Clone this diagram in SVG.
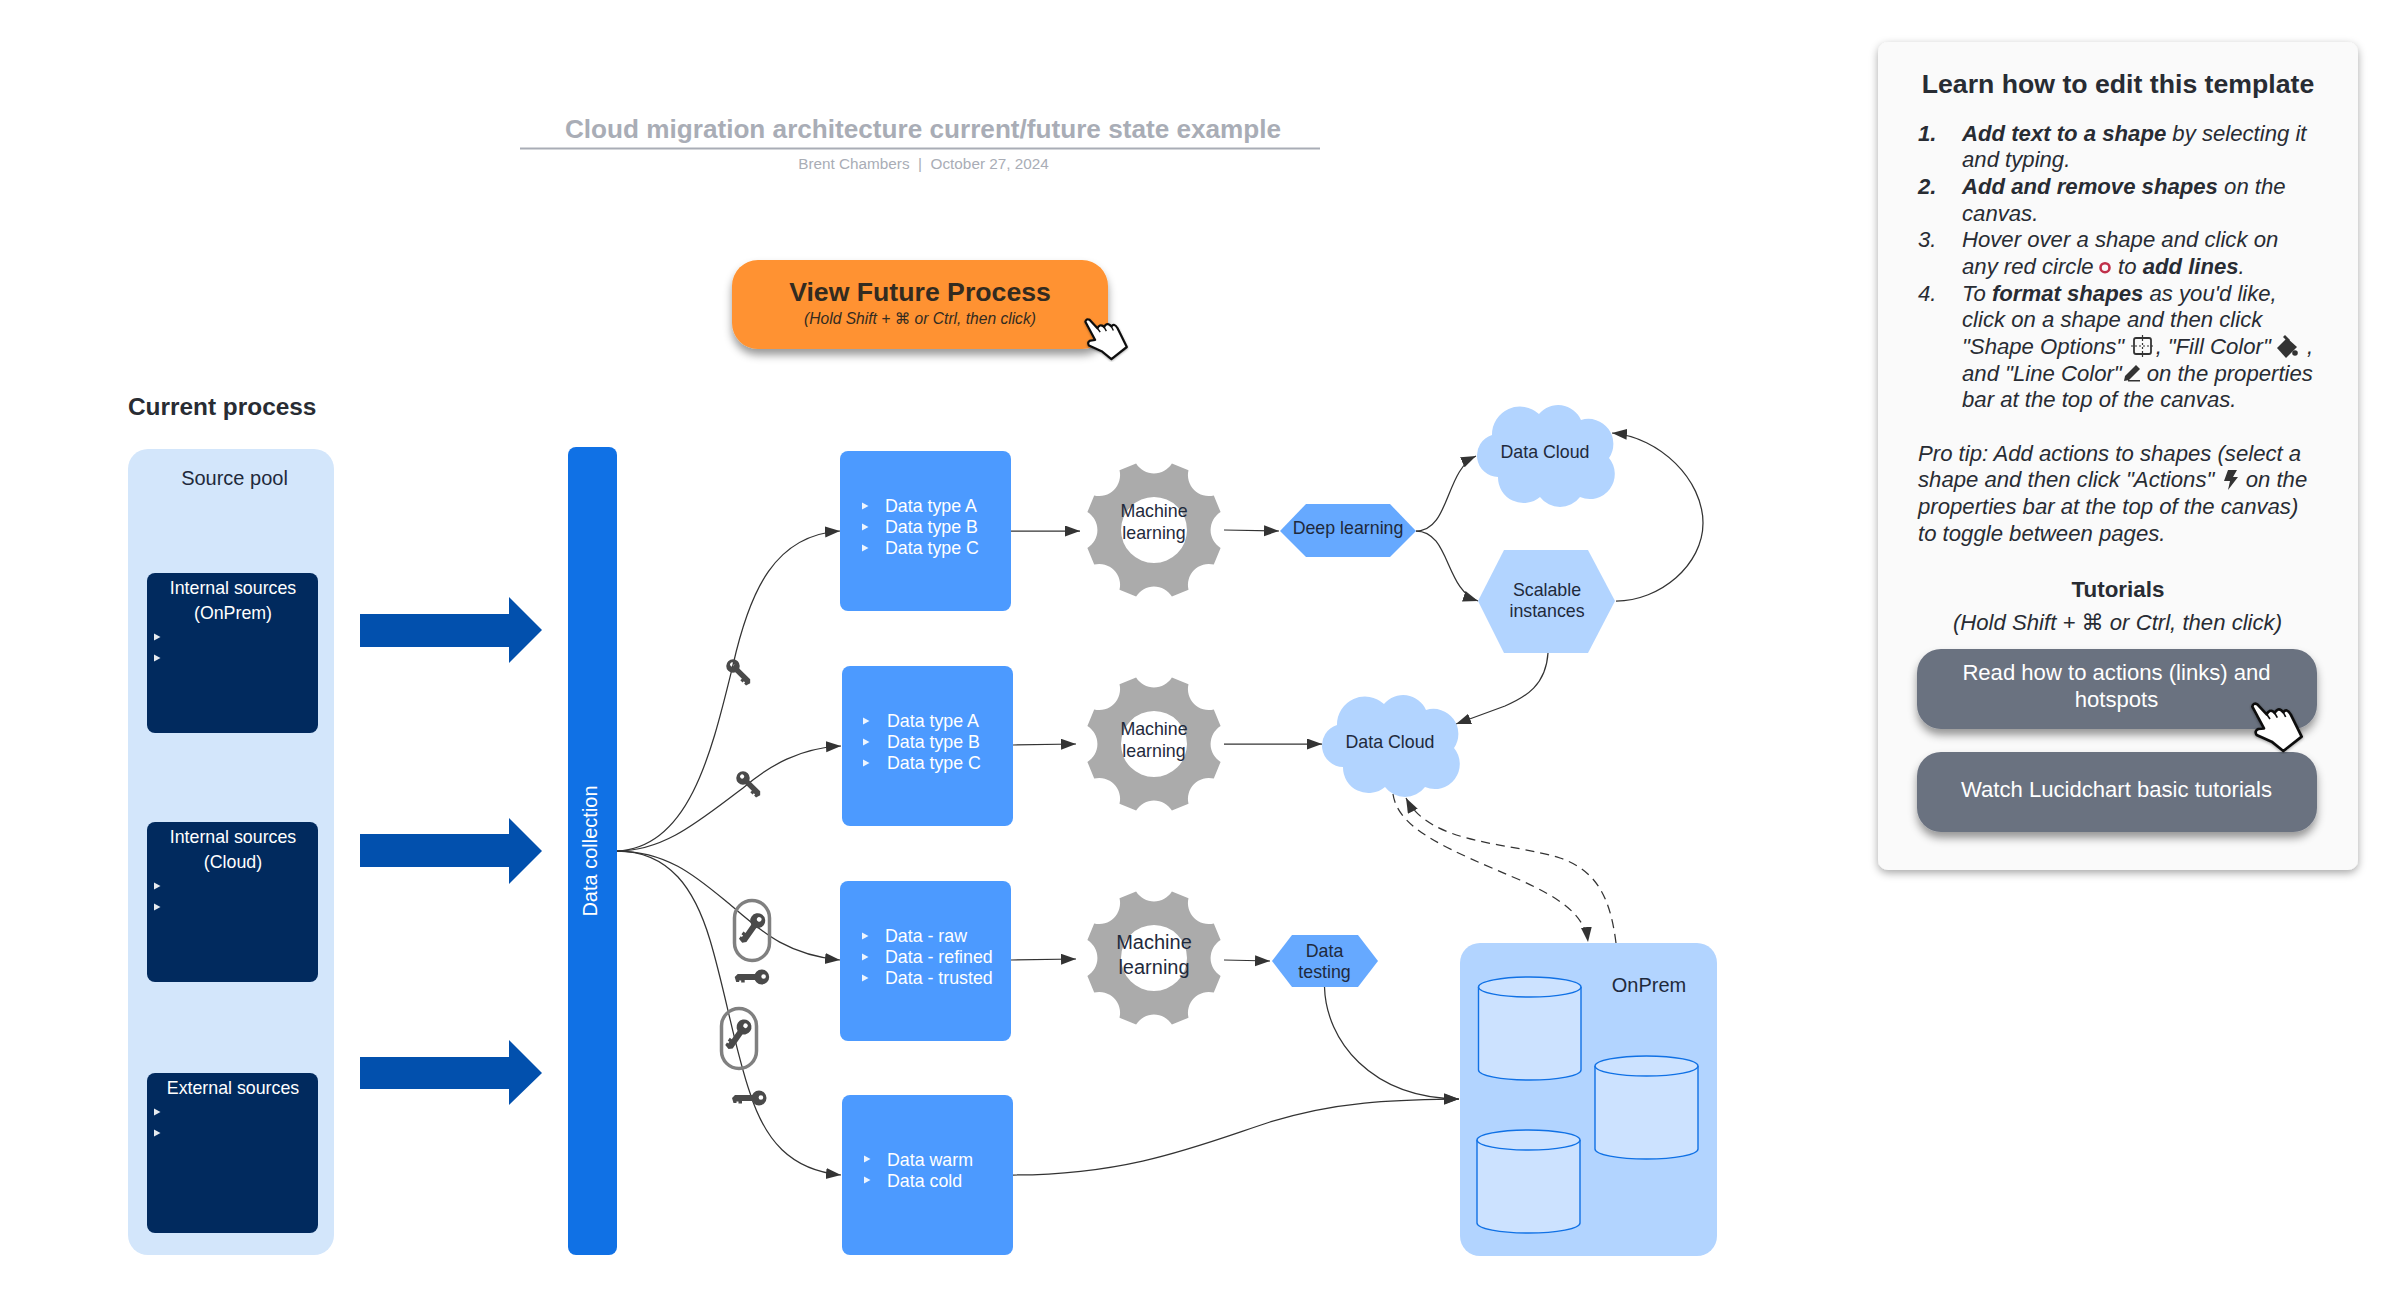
<svg xmlns="http://www.w3.org/2000/svg" xmlns:xlink="http://www.w3.org/1999/xlink" width="2394" height="1296" viewBox="0 0 2394 1296">
<defs>
<style>
text{font-family:"Liberation Sans","DejaVu Sans",sans-serif;fill:#1f2a3c;font-size:17.8px}
.c{text-anchor:middle}
.w{fill:#fff}
.b{font-weight:bold}
.i{font-style:italic}
.p{font-size:22.15px;fill:#282c33;font-style:italic}
.p .b{font-weight:bold}
.con{fill:none;stroke:#333;stroke-width:1.25;marker-end:url(#ah)}
.dash{stroke-dasharray:9 6}
.blue{fill:#4c9aff}
.dark{fill:#012a5e}
.ar{fill:#0250ad}
.pale{fill:#b2d4ff}
.mid{fill:#66a9ff}
.cyl{fill:#cce2ff;stroke:#1071e5;stroke-width:1.4}
.cap{fill:none;stroke:#808080;stroke-width:3.5}
.key{fill:#4a4a4a}
</style>
<marker id="ah" markerUnits="userSpaceOnUse" markerWidth="16" markerHeight="12" refX="15" refY="5.5" orient="auto"><path d="M0 0L15 5.5L0 11Z" fill="#333"/></marker>
<filter id="sh" x="-20%" y="-20%" width="140%" height="150%"><feDropShadow dx="0" dy="6" stdDeviation="4" flood-color="#000" flood-opacity=".4"/></filter>
<filter id="shl" x="-5%" y="-5%" width="110%" height="110%"><feDropShadow dx="0" dy="3" stdDeviation="4" flood-color="#000" flood-opacity=".35"/></filter>
<path id="gear" fill="#ababab" fill-rule="evenodd" d="M17.9 -66.6L34.5 -59.8A21 21 0 0 0 59.8 -34.5L66.6 -17.9A21 21 0 0 0 66.6 17.9L59.8 34.500A21 21 0 0 0 34.5 59.8L17.9 66.6A21 21 0 0 0 -17.9 66.6L-34.5 59.8A21 21 0 0 0 -59.8 34.5L-66.6 17.9A21 21 0 0 0 -66.6 -17.9L-59.8 -34.5A21 21 0 0 0 -34.5 -59.8L-17.9 -66.6A21 21 0 0 0 17.9 -66.6ZM33 0A33 33 0 1 0 -33 0A33 33 0 1 0 33 0Z"/>
<path id="cloud" class="pale" d="M15 30A28 28 0 0 1 62 9A25 25 0 0 1 104 15A25 25 0 0 1 132 53A25 25 0 0 1 103 92A25 25 0 0 1 63 92A25.5 25.5 0 0 1 21 72A21.5 21.5 0 0 1 15 30Z"/>
<path id="tri" fill="#fff" d="M-3 -3.5L3.5 0L-3 3.5Z" opacity=".9"/>
<g id="keyg" class="key"><path fill-rule="evenodd" d="M7.500 0A7.500 7.500 0 1 1 -7.500 0A7.500 7.500 0 1 1 7.500 0ZM4.200 -.5A2.300 2.300 0 1 0 -.4 -.5A2.300 2.300 0 1 0 4.200 -.5Z"/><path d="M-4 -3H-24L-27 0L-25.500 5H-22.500V3.500H-20.500V5.500H-17V3H-4Z"/></g>
<g id="hand"><path fill="#fff" stroke="#111" stroke-width="8" stroke-linejoin="round" d="M37 35Q40 22 52 28L80 58Q88 42 100 50L104 54Q112 38 124 46L130 52Q140 38 152 58L185 125L130 168L95 140L50 120Q42 108 55 102L72 100Z"/><path fill="none" stroke="#111" stroke-width="5" d="M80 58L90 72M104 54L112 68M130 52L137 66"/></g>
</defs>
<rect width="2394" height="1296" fill="#fff"/>

<g id="title">
<text class="b c" x="923" y="138" style="font-size:26.15px;fill:#a9adb6">Cloud migration architecture current/future state example</text>
<rect x="520" y="147.500" width="800" height="2" fill="#a9adb6"/>
<text class="c" x="923.500" y="169" style="font-size:15.3px;fill:#a9adb6">Brent Chambers &#160;|&#160; October 27, 2024</text>
</g>

<g id="future-button">
<rect x="732" y="260" width="376" height="89" rx="26" fill="#ff9230" filter="url(#sh)"/>
<text class="b c" x="920" y="301" style="font-size:26.67px;fill:#332b20">View Future Process</text>
<text class="i c" x="920" y="324" style="font-size:15.6px;fill:#332b20">(Hold Shift + ⌘ or Ctrl, then click)</text>
<use xlink:href="#hand" href="#hand" transform="translate(1075 312) scale(.28)" filter="url(#shl)"/>
</g>

<text id="current-label" class="b" x="128" y="415" style="font-size:24.4px;fill:#282c33">Current process</text>

<g id="source-pool">
<rect x="128" y="449" width="206" height="806" rx="20" fill="#d3e6fb"/>
<text class="c" x="234.500" y="485" style="font-size:20px">Source pool</text>
</g>
<g id="src-onprem">
<rect class="dark" x="147" y="573" width="171" height="160" rx="8"/>
<text class="c w" x="233" y="594">Internal sources</text><text class="c w" x="233" y="619">(OnPrem)</text>
<use href="#tri" x="157" y="637"/><use href="#tri" x="157" y="658"/>
</g>
<g id="src-cloud">
<rect class="dark" x="147" y="822" width="171" height="160" rx="8"/>
<text class="c w" x="233" y="843">Internal sources</text><text class="c w" x="233" y="868">(Cloud)</text>
<use href="#tri" x="157" y="886"/><use href="#tri" x="157" y="907"/>
</g>
<g id="src-external">
<rect class="dark" x="147" y="1073" width="171" height="160" rx="8"/>
<text class="c w" x="233" y="1094">External sources</text>
<use href="#tri" x="157" y="1112"/><use href="#tri" x="157" y="1133"/>
</g>

<g id="block-arrows">
<path class="ar" d="M360 614H509V597L542 630L509 663V647H360Z"/>
<path class="ar" d="M360 834H509V818L542 851L509 884V867H360Z"/>
<path class="ar" d="M360 1057H509V1040L542 1073L509 1105V1089H360Z"/>
</g>

<g id="data-collection">
<rect x="568" y="447" width="49" height="808" rx="8" fill="#1071e5"/>
<text class="c w" transform="translate(597 851) rotate(-90)" style="font-size:20px">Data collection</text>
</g>

<g id="connectors">
<path class="con" d="M617 851C690 848 712 750 733 665C750 590 775 535 840 531"/>
<path class="con" d="M617 851C665 851 700 820 743 788C770 765 800 748 841 746"/>
<path class="con" d="M617 851C670 851 700 880 733 907C765 935 790 955 840 960"/>
<path class="con" d="M617 851C670 851 695 890 710 940C725 990 735 1050 750 1093C765 1140 790 1170 841 1175"/>
<path class="con" d="M1011 531H1080"/>
<path class="con" d="M1224 530L1279 531"/>
<path class="con" d="M1013 745L1076 744"/>
<path class="con" d="M1224 744H1322"/>
<path class="con" d="M1011 960L1076 959"/>
<path class="con" d="M1224 960L1270 961"/>
<path class="con" d="M1416 531C1450 531 1445 470 1476 456"/>
<path class="con" d="M1416 531C1450 531 1445 590 1478 601"/>
<path class="con" d="M1616 601C1660 601 1703 565 1703 523C1703 480 1660 437 1612 433"/>
<path class="con" d="M1548 653C1546 685 1526 697 1505 706L1456 724"/>
<path class="con" d="M1324.500 987C1326 1040 1370 1098 1459 1099"/>
<path class="con" d="M1013 1175C1130 1175 1200 1145 1270 1122C1340 1100 1400 1100 1459 1099"/>
<path class="con dash" d="M1393 794C1398 830 1450 850 1520 880C1560 898 1585 915 1588 942"/>
<path class="con dash" d="M1616 943C1610 895 1595 870 1560 858C1510 842 1430 845 1406 798"/>
</g>

<g id="keys">
<use href="#keyg" transform="translate(733 666) rotate(-135) scale(.9 -.9)"/>
<use href="#keyg" transform="translate(743 778) rotate(-135) scale(.9 -.9)"/>
<rect class="cap" x="734.500" y="900.500" width="35" height="60" rx="17.500"/>
<use href="#keyg" transform="translate(757.700 920.700) rotate(-55) scale(1 -1)"/>
<use href="#keyg" transform="translate(761.700 977)"/>
<rect class="cap" x="721.500" y="1008.500" width="35" height="60" rx="17.500"/>
<use href="#keyg" transform="translate(744 1027) rotate(-55) scale(1 -1)"/>
<use href="#keyg" transform="translate(759 1098)"/>
</g>

<g id="box-a">
<rect class="blue" x="840" y="451" width="171" height="160" rx="8"/>
<use href="#tri" x="865" y="506"/><use href="#tri" x="865" y="527"/><use href="#tri" x="865" y="548"/>
<text class="w" x="885" y="512">Data type A</text><text class="w" x="885" y="533">Data type B</text><text class="w" x="885" y="554">Data type C</text>
</g>
<g id="box-b">
<rect class="blue" x="842" y="666" width="171" height="160" rx="8"/>
<use href="#tri" x="866" y="721"/><use href="#tri" x="866" y="742"/><use href="#tri" x="866" y="763"/>
<text class="w" x="887" y="727">Data type A</text><text class="w" x="887" y="748">Data type B</text><text class="w" x="887" y="769">Data type C</text>
</g>
<g id="box-c">
<rect class="blue" x="840" y="881" width="171" height="160" rx="8"/>
<use href="#tri" x="865" y="936"/><use href="#tri" x="865" y="957"/><use href="#tri" x="865" y="978"/>
<text class="w" x="885" y="942">Data - raw</text><text class="w" x="885" y="963">Data - refined</text><text class="w" x="885" y="984">Data - trusted</text>
</g>
<g id="box-d">
<rect class="blue" x="842" y="1095" width="171" height="160" rx="8"/>
<use href="#tri" x="867" y="1159"/><use href="#tri" x="867" y="1180"/>
<text class="w" x="887" y="1166">Data warm</text><text class="w" x="887" y="1187">Data cold</text>
</g>

<g id="gear-1"><use href="#gear" x="1154" y="530"/><text class="c" x="1154" y="517">Machine</text><text class="c" x="1154" y="539">learning</text></g>
<g id="gear-2"><use href="#gear" x="1154" y="744"/><text class="c" x="1154" y="735">Machine</text><text class="c" x="1154" y="757">learning</text></g>
<g id="gear-3"><use href="#gear" x="1154" y="958"/><text class="c" x="1154" y="949" style="font-size:20px">Machine</text><text class="c" x="1154" y="974" style="font-size:20px">learning</text></g>

<g id="deep-learning">
<path class="mid" d="M1280 531L1306 504H1390L1416 531L1390 557H1306Z"/>
<text class="c" x="1348" y="534">Deep learning</text>
</g>
<g id="cloud-1">
<use href="#cloud" x="1477" y="405"/>
<text class="c" x="1545" y="458">Data Cloud</text>
</g>
<g id="scalable">
<path class="pale" d="M1478 601L1504 550H1588L1615 601L1588 653H1504Z"/>
<text class="c" x="1547" y="596">Scalable</text><text class="c" x="1547" y="617">instances</text>
</g>
<g id="cloud-2">
<use href="#cloud" x="1322" y="695"/>
<text class="c" x="1390" y="748">Data Cloud</text>
</g>
<g id="data-testing">
<path class="mid" d="M1272 961L1292 935H1358L1378 961L1358 987H1292Z"/>
<text class="c" x="1324.500" y="957">Data</text><text class="c" x="1324.500" y="978">testing</text>
</g>
<g id="onprem">
<rect class="pale" x="1460" y="943" width="257" height="313" rx="20"/>
<text class="c" x="1649" y="992" style="font-size:20px">OnPrem</text>
<path class="cyl" d="M1478.500 987A51.250 10 0 0 1 1581 987V1070A51.250 10 0 0 1 1478.500 1070Z"/><path class="cyl" d="M1478.500 987A51.250 10 0 0 0 1581 987"/>
<path class="cyl" d="M1595 1066A51.500 10 0 0 1 1698 1066V1149A51.500 10 0 0 1 1595 1149Z"/><path class="cyl" d="M1595 1066A51.500 10 0 0 0 1698 1066"/>
<path class="cyl" d="M1477 1140A51.500 10 0 0 1 1580 1140V1223A51.500 10 0 0 1 1477 1223Z"/><path class="cyl" d="M1477 1140A51.500 10 0 0 0 1580 1140"/>
</g>

<g id="panel">
<rect x="1878" y="42" width="480" height="828" rx="10" fill="#fafafa" filter="url(#shl)"/>
<text class="b c" x="2118" y="93" style="font-size:26.67px;fill:#282c33">Learn how to edit this template</text>
<text class="p" x="1918" y="140.700"><tspan class="b">1.</tspan></text><text class="p" x="1962" y="140.700"><tspan class="b">Add text to a shape</tspan> by selecting it</text>
<text class="p" x="1962" y="167.300">and typing.</text>
<text class="p" x="1918" y="194"><tspan class="b">2.</tspan></text><text class="p" x="1962" y="194"><tspan class="b">Add and remove shapes</tspan> on the</text>
<text class="p" x="1962" y="220.700">canvas.</text>
<text class="p" x="1918" y="247.300">3.</text><text class="p" x="1962" y="247.300">Hover over a shape and click on</text>
<text class="p" x="1962" y="274">any red circle</text>
<circle cx="2105" cy="267.700" r="4.500" fill="none" stroke="#c0304a" stroke-width="2.600"/>
<text class="p" x="2118" y="274">to <tspan class="b">add lines</tspan>.</text>
<text class="p" x="1918" y="300.700">4.</text><text class="p" x="1962" y="300.700">To <tspan class="b">format shapes</tspan> as you'd like,</text>
<text class="p" x="1962" y="327.300">click on a shape and then click</text>
<text class="p" x="1962" y="354">"Shape Options"</text>
<g fill="none" stroke="#333" stroke-width="1.800"><rect x="2134" y="338" width="17" height="16" rx="2"/><path d="M2142.500 335V357M2131 346H2154" stroke-dasharray="2 2" stroke-width="1.200"/></g>
<text class="p" x="2155.700" y="354">,</text>
<text class="p" x="2167.700" y="354">"Fill Color"</text>
<path fill="#333" d="M2277 348L2287 338L2297 347L2286 358Z"/><path fill="#333" d="M2285 335L2290 340L2288 342L2283 337Z"/><circle cx="2295" cy="353" r="2.800" fill="#333"/>
<text class="p" x="2307" y="354">,</text>
<text class="p" x="1962" y="380.700">and "Line Color"</text>
<path fill="#333" d="M2125 376L2136 365L2140 369L2129 380L2124 381Z"/><rect x="2128" y="380" width="12" height="1.500" fill="#333"/>
<text class="p" x="2146.700" y="380.700">on the properties</text>
<text class="p" x="1962" y="407.300">bar at the top of the canvas.</text>
<text class="p" x="1918" y="460.700">Pro tip: Add actions to shapes (select a</text>
<text class="p" x="1918" y="487.300">shape and then click "Actions"</text>
<path fill="#333" d="M2228 470H2237L2233 477H2238L2228 490L2230 481H2224Z"/>
<text class="p" x="2245.700" y="487.300">on the</text>
<text class="p" x="1918" y="514">properties bar at the top of the canvas)</text>
<text class="p" x="1918" y="540.700">to toggle between pages.</text>
<text class="b c" x="2118" y="597" style="font-size:22.4px;fill:#282c33">Tutorials</text>
<text class="p c" x="2117.500" y="630">(Hold Shift + ⌘ or Ctrl, then click)</text>
</g>
<g id="btn-read">
<rect x="1917" y="649" width="400" height="80" rx="24" fill="#6b7280" filter="url(#sh)"/>
<text class="c w" x="2116.500" y="680" style="font-size:22.1px">Read how to actions (links) and</text>
<text class="c w" x="2116.500" y="706.700" style="font-size:22.1px">hotspots</text>
</g>
<g id="btn-watch">
<rect x="1917" y="752" width="400" height="80" rx="24" fill="#6b7280" filter="url(#sh)"/>
<text class="c w" x="2116.500" y="796.700" style="font-size:22.1px">Watch Lucidchart basic tutorials</text>
</g>
<use xlink:href="#hand" href="#hand" transform="translate(2240 695) scale(.3333)" filter="url(#shl)"/>
</svg>
